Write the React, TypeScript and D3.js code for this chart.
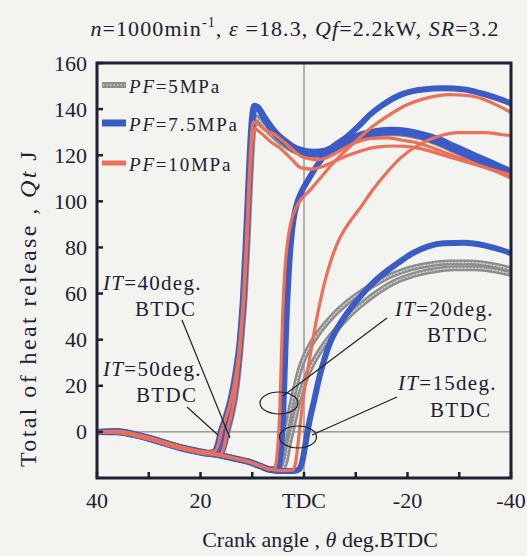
import React from 'react';
import * as d3 from 'd3';

type P = [number, number];

// ---- axis values ----
const xTicks = [40, 30, 20, 10, 0, -10, -20, -30, -40];
const xLabelValues = [40, 20, 0, -20, -40];
const xLabels = ['40', '20', 'TDC', '-20', '-40'];
const yTicks = [0, 20, 40, 60, 80, 100, 120, 140, 160];
const legendLabels = ['5MPa', '7.5MPa', '10MPa'];

// ---- PF = 5 MPa (gray) ----
const gray50: P[] = [[40,0],[36,0],[33,-1.2],[30,-2.8],[27,-4.8],[24,-6.8],[21,-8.3],[18.5,-9.2],[17,-8.5],[16.4,-5],[15.8,0],[15,6],[14,14],[13,26],[12.2,41],[11.6,59],[11.1,81],[10.7,101],[10.3,120],[9.9,132],[9.5,136.5],[8.8,136],[7.5,132.5],[5.5,128],[3.5,124.5],[1.5,122],[0,121],[-2,120.5],[-4,121],[-6,123],[-8.3,125.5],[-11,128],[-14,129.5],[-17,130],[-20,129.5],[-23,128],[-26,125.5],[-29,122.5],[-32,119.5],[-35,116.5],[-38,114],[-40,112]];
const gray40: P[] = [[40,0],[36,0.2],[33,-1],[30,-2.6],[27,-4.6],[24,-6.6],[21,-8.2],[18.5,-9.2],[16.2,-9.4],[15.3,-5],[14.8,0],[14.1,6],[13.3,15],[12.6,28],[12,43],[11.4,61],[10.9,83],[10.5,104],[10.1,122],[9.7,133],[9.3,136],[8.6,135],[7.5,132],[5.5,127.5],[3.5,124],[1.5,121.5],[0,120.5],[-2,120],[-4,120.5],[-6,122.5],[-8.3,125],[-11,127.5],[-14,129],[-17,129.5],[-20,129],[-23,127.5],[-26,125],[-29,122],[-32,119],[-35,116],[-38,113],[-40,111]];
const gray20: P[] = [[40,0],[36,0.1],[33,-1.1],[30,-2.7],[27,-4.7],[24,-6.7],[21,-8.2],[18.5,-9.2],[16,-10.2],[13,-11.7],[11,-12.7],[8.5,-14.7],[6.5,-16.2],[5.5,-16],[4.7,-12],[4,-5],[3.3,2],[2.5,11],[1.6,20],[0.8,27],[0,32],[-1.5,38.5],[-3,43.5],[-5,49],[-8,55.5],[-11,60.5],[-14,64.5],[-17,68],[-20,70.5],[-24,72.5],[-28,73.5],[-32,73.5],[-36,72.5],[-40,70.5]];
const gray15: P[] = [[40,0],[36,0.1],[33,-1.1],[30,-2.7],[27,-4.7],[24,-6.7],[21,-8.2],[18.5,-9.2],[16,-10.2],[13,-11.7],[11,-12.7],[8.5,-14.7],[6.5,-16.3],[4.5,-16.6],[3.6,-13],[3,-6],[2.4,0],[1.6,8],[0.6,17],[-0.5,24],[-2,31],[-3.5,36.5],[-5.5,42.5],[-8.5,50],[-11.5,56],[-14.5,61],[-17.5,65],[-21,68],[-25,70],[-29,71],[-33,71],[-37,70],[-40,68.5]];

// ---- PF = 7.5 MPa (blue) ----
const blue50: P[] = [[40,0],[36,0.3],[33,-1],[30,-2.7],[27,-4.7],[24,-6.7],[21,-8.2],[18.5,-9],[17.3,-8.5],[16.6,-5],[16.1,0],[15.2,6],[14.2,14],[13.2,26],[12.4,40],[11.8,58],[11.3,80],[10.9,100],[10.5,120],[10.1,135],[9.6,141.5],[9,141],[7.5,136],[5.5,130],[3.5,126],[1.5,123],[0,122],[-2,121.5],[-4,122],[-6,124],[-8.3,126.5],[-11,129],[-14,130.5],[-17,131],[-20,130.5],[-23,129],[-26,127],[-29,124],[-32,121],[-35,118],[-38,115],[-40,113]];
const blue40: P[] = [[40,0],[36,-0.2],[33,-1.3],[30,-3],[27,-5],[24,-7],[21,-8.5],[18.5,-9.5],[16.3,-9.5],[15.5,-6],[15,0],[14.3,6],[13.5,15],[12.8,27],[12.2,42],[11.6,60],[11.1,82],[10.7,103],[10.3,122],[9.9,136],[9.4,140.5],[8.8,140],[7.5,135],[5.5,129],[3.5,125],[1.5,122],[0,121],[-2,120.5],[-4,121],[-6,123],[-8.3,125.5],[-11,128],[-14,129.5],[-17,130],[-20,129.5],[-23,128],[-26,125.5],[-29,122.5],[-32,119.5],[-35,116.5],[-38,113.5],[-40,111.5]];
const blue20: P[] = [[40,0],[36,0.3],[33,-0.8],[30,-2.5],[27,-4.5],[24,-6.5],[21,-8],[18.5,-9.2],[16,-10.2],[13,-11.7],[11,-12.7],[8.5,-14.7],[6.5,-16.3],[5.2,-16.5],[4.7,-13],[4.35,-5],[4.05,6],[3.75,25],[3.45,45],[3.0,67],[2.5,83],[2,92.5],[1.3,99.5],[0.5,104],[-1,110],[-2.5,115.5],[-5,122.5],[-8.3,128],[-10.5,132.5],[-12.7,137.5],[-15,141.5],[-19,146.5],[-23,148.5],[-27,149],[-31,148.5],[-34,147],[-37,145],[-40,142.5]];
const blue15: P[] = [[40,0],[36,0],[33,-1.2],[30,-2.9],[27,-4.9],[24,-6.9],[21,-8.4],[18.5,-9.4],[16,-10.4],[13,-11.9],[11,-12.9],[8.5,-14.9],[6.5,-16.5],[4,-17],[2,-17],[1,-16.3],[0.3,-12.5],[-0.3,-5],[-1,4],[-2,14],[-3,24],[-4,32],[-5,38.5],[-7,47],[-9,53.5],[-11,59],[-12.8,63.5],[-15,68],[-18,73],[-21,77.5],[-24,80.5],[-27,81.8],[-31,82],[-35,80.8],[-38,79],[-40,77.5]];

// ---- PF = 10 MPa (orange) ----
const orange50: P[] = [[40,0],[36,0.2],[33,-0.8],[30,-2.4],[27,-4.4],[24,-6.4],[21,-8],[18.5,-8.8],[17.2,-8.3],[16.5,-5],[16,0],[15.1,6],[14.1,14],[13.1,26],[12.3,41],[11.7,59],[11.2,80],[10.8,100],[10.4,119],[10.1,130],[9.8,134.5],[9.2,134],[7.5,131],[6,129.5],[4,126],[2,122],[0.5,119.5],[-1,118.5],[-2.5,118],[-4.5,119],[-7,122],[-10,125.5],[-13,127.3],[-16,127.5],[-19,126.5],[-22,125.3],[-25,123],[-28,120.5],[-31,118],[-34,115.5],[-37,113],[-40,110]];
const orange40: P[] = [[40,0],[36,-0.3],[33,-1.5],[30,-3.2],[27,-5.2],[24,-7.2],[21,-8.7],[18.5,-9.6],[16.2,-9.6],[15.4,-6],[14.9,0],[14.2,6],[13.4,15],[12.7,28],[12.1,43],[11.5,61],[11,82],[10.6,103],[10.2,120],[9.9,128.5],[9.5,131.5],[8.5,130],[6.5,126],[4.6,123],[2.5,118.5],[0.5,114.5],[-1.5,114],[-3.5,115],[-5.5,117],[-7.5,119],[-10.5,121.5],[-14,123.5],[-17.5,124],[-21,123.5],[-24,122],[-27,120],[-30,118],[-33,116],[-36,114],[-40,111.5]];
const orange20: P[] = [[40,0],[36,0],[33,-1],[30,-2.7],[27,-4.7],[24,-6.7],[21,-8.3],[18.5,-9.3],[16,-10.3],[13,-11.8],[11,-12.8],[8.5,-14.8],[6.5,-16.3],[5.7,-16.3],[5.3,-12],[5,-4],[4.7,8],[4.4,30],[4.1,52],[3.7,70],[3.2,82],[2.5,91],[1.5,97.5],[0.5,101],[-1.2,105],[-3.5,111],[-6,117.5],[-10,126],[-13,132],[-16.5,137.5],[-20,142],[-24,145],[-28,146.3],[-32,145.8],[-35,144],[-38,141],[-40,138.5]];
const orange15: P[] = [[40,0],[36,0.2],[33,-0.9],[30,-2.6],[27,-4.6],[24,-6.6],[21,-8.1],[18.5,-9.1],[16,-10.1],[13,-11.6],[11,-12.6],[8.5,-14.6],[6.5,-16.2],[4,-16.8],[2.2,-16.6],[1.6,-13],[1.1,-4],[0.6,6],[0,17],[-0.8,28],[-1.7,40],[-2.8,53],[-4,65],[-5.3,75],[-6.7,83],[-8.5,90],[-10.8,97],[-13.3,105],[-16,112.5],[-18.5,118.5],[-21.8,124],[-25.7,128],[-30,129.8],[-35,129.8],[-38,129],[-40,128.5]];

const grayCurves = [gray50, gray40, gray20, gray15];
const blueCurves = [blue50, blue40, blue20, blue15];
const orangeCurves = [orange50, orange40, orange20, orange15];

const W = 527, H = 556;
const L = 97, R = 511, T = 63, B = 478;
const FONT = "'Liberation Serif','Times New Roman',Times,serif";
const INK = '#1d2133';
const BG = '#f3f3ef';
const GRAY = '#8d8d8d';
const BLUE = '#3b5cc6';
const ORANGE = '#ec6f58';

export default function App() {
  const x = d3.scaleLinear().domain([40, -40]).range([L, R]);
  const y = d3.scaleLinear().domain([-20, 160]).range([B, T]);
  const line = d3.line<P>().x(d => x(d[0])).y(d => y(d[1])).curve(d3.curveMonotoneX);

  const legendY = [85, 123, 163];
  const legendColors = [GRAY, BLUE, ORANGE];
  const legendW = [6, 7, 5];

  return (
    <svg width={W} height={H} style={{ position: 'absolute', left: 0, top: 0, display: 'block' }} fontFamily={FONT}>
      <rect x={0} y={0} width={W} height={H} fill={BG} />
      <defs>
        <clipPath id="plot"><rect x={L} y={T} width={R - L} height={B - T} /></clipPath>
      </defs>

      {/* title */}
      <text x={295} y={36} fontSize={22} fill={INK} textAnchor="middle" letterSpacing={1.1}>
        <tspan fontStyle="italic">n</tspan>=1000min<tspan dy={-9} fontSize={14}>-1</tspan><tspan dy={9}>,  </tspan>
        <tspan fontStyle="italic">ε</tspan> =18.3,  <tspan fontStyle="italic">Qf</tspan>=2.2kW,  <tspan fontStyle="italic">SR</tspan>=3.2
      </text>

      {/* reference lines */}
      <line x1={L} x2={R} y1={y(0)} y2={y(0)} stroke="#6e6e6e" strokeWidth={1} />
      <line x1={x(0)} x2={x(0)} y1={T} y2={B} stroke="#6e6e6e" strokeWidth={1} />

      <g clipPath="url(#plot)" fill="none" strokeLinejoin="round" strokeLinecap="round">
        {grayCurves.map((c, i) => (
          <g key={'g' + i}>
            <path d={line(c) || ''} stroke={GRAY} strokeWidth={6} />
            <path d={line(c) || ''} stroke="#cfcfcf" strokeWidth={1.4} strokeDasharray="1.5 2" />
          </g>
        ))}
        {blueCurves.map((c, i) => (
          <path key={'b' + i} d={line(c) || ''} stroke={BLUE} strokeWidth={6} />
        ))}
        {orangeCurves.map((c, i) => (
          <path key={'o' + i} d={line(c) || ''} stroke={ORANGE} strokeWidth={3.2} />
        ))}
      </g>

      {/* frame */}
      <rect x={L} y={T} width={R - L} height={B - T} fill="none" stroke={INK} strokeWidth={3} />

      {/* ticks */}
      {xTicks.map(t => (
        <line key={'xt' + t} x1={x(t)} x2={x(t)} y1={B} y2={B - 6} stroke={INK} strokeWidth={2.5} />
      ))}
      {yTicks.map(t => (
        <line key={'yt' + t} x1={L} x2={L + 6} y1={y(t)} y2={y(t)} stroke={INK} strokeWidth={2.5} />
      ))}
      {xLabelValues.map((t, i) => (
        <text key={'xl' + t} x={x(t)} y={508} fontSize={22} fill={INK} textAnchor="middle">{xLabels[i]}</text>
      ))}
      {yTicks.map(t => (
        <text key={'yl' + t} x={87} y={y(t) + 7.5} fontSize={22} fill={INK} textAnchor="end">{t}</text>
      ))}

      {/* axis titles */}
      <text x={320} y={547} fontSize={22} fill={INK} textAnchor="middle">
        Crank angle ,  <tspan fontStyle="italic">θ</tspan>  deg.BTDC
      </text>
      <text transform={`translate(36,${308}) rotate(-90)`} fontSize={24} fill={INK} textAnchor="middle" letterSpacing={2.4}>
        Total of heat release , <tspan fontStyle="italic">Qt</tspan>  J
      </text>

      {/* legend */}
      {legendLabels.map((lab, i) => (
        <g key={'lg' + i}>
          <line x1={102} x2={126} y1={legendY[i]} y2={legendY[i]} stroke={legendColors[i]} strokeWidth={legendW[i]} />
          {i === 0 && <line x1={103} x2={125} y1={legendY[i]} y2={legendY[i]} stroke="#cfcfcf" strokeWidth={1.4} strokeDasharray="1.5 2" />}
          <text x={129} y={legendY[i] + 8} fontSize={19} fill={INK} letterSpacing={1.8}>
            <tspan fontStyle="italic">PF</tspan>={lab}
          </text>
        </g>
      ))}

      {/* annotations */}
      <g fontSize={21} fill={INK} letterSpacing={1.3}>
        <text x={103} y={290}><tspan fontStyle="italic">IT</tspan>=40deg.</text>
        <text x={135} y={316}>BTDC</text>
        <text x={103} y={376}><tspan fontStyle="italic">IT</tspan>=50deg.</text>
        <text x={136} y={402}>BTDC</text>
        <text x={395} y={316}><tspan fontStyle="italic">IT</tspan>=20deg.</text>
        <text x={427} y={342}>BTDC</text>
        <text x={398} y={390}><tspan fontStyle="italic">IT</tspan>=15deg.</text>
        <text x={430} y={417}>BTDC</text>
      </g>
      <g stroke="#222" strokeWidth={1.2} fill="none">
        <line x1={182} y1={320} x2={230} y2={438} />
        <line x1={187} y1={407} x2={218} y2={435} />
        <line x1={387} y1={318} x2={283} y2={396} />
        <line x1={397} y1={397} x2={312} y2={435} />
        <ellipse cx={279} cy={403} rx={19} ry={11} />
        <ellipse cx={298} cy={437} rx={18.5} ry={11} />
      </g>
    </svg>
  );
}
